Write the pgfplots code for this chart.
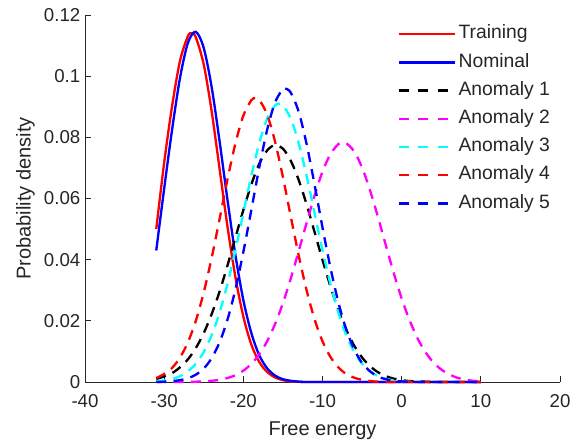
\documentclass[border=0pt]{standalone}
\usepackage{pgfplots}
\pgfplotsset{compat=1.18}
\usepackage{fontspec}
\setmainfont{Liberation Sans}
\definecolor{axgray}{gray}{0.15}
\definecolor{mred}{rgb}{1,0,0}
\definecolor{mblue}{rgb}{0,0,1}
\definecolor{mmagenta}{rgb}{1,0,1}
\definecolor{mcyan}{rgb}{0,1,1}

\begin{document}
\begin{tikzpicture}
\begin{axis}[
  scale only axis,
  width=356.25pt, height=275.25pt,
  xmin=-40, xmax=20, ymin=0, ymax=0.12,
  xtick={-40,-30,-20,-10,0,10,20},
  ytick={0,0.02,0.04,0.06,0.08,0.1,0.12},
  axis x line*=bottom, axis y line*=left,
  axis line style={-, draw=axgray, line width=0.6pt},
  tick align=inside,
  major tick length=4.5pt,
  tick style={axgray, line width=0.6pt},
  scaled y ticks=false,
  yticklabel style={/pgf/number format/fixed, /pgf/number format/precision=2},
  xticklabel style={yshift=-6pt},
  /pgf/number format/assume math mode=true,
  ticklabel style={font=\fontsize{14}{16}\selectfont, text=axgray},
  label style={font=\fontsize{15}{18}\selectfont, text=axgray},
  xlabel={Free energy},
  xlabel style={at={(axis description cs:0.5,0)}, anchor=center, yshift=-36.75pt},
  ylabel={Probability density},
  legend style={draw=none, fill=none, inner sep=0pt,
    at={(0.6575,0.981)}, anchor=north west,
    font=\fontsize{14.5}{17}\selectfont, text=axgray,
    nodes={inner sep=2pt, text height=10.5pt, text depth=3.5pt},
    row sep=3.15pt},
  legend cell align=left,
  legend image code/.code={\draw[#1] (0pt,0pt) -- (42pt,0pt);},
  clip=false,
  every axis plot/.append style={line width=1.75pt, smooth},
  anom/.style={dash pattern=on 7.5pt off 5.5pt,
    legend image post style={dash pattern=on 7.5pt off 7.25pt}},
]
% Training
\addplot[mred] coordinates {
(-31,0.0500) (-30,0.0717) (-29,0.0902) (-28,0.1050) (-27,0.1131) (-26.5,0.1140)
(-26,0.1127) (-25,0.1038) (-24,0.0885) (-23,0.0697) (-22,0.0508) (-21,0.0343)
(-20,0.0214) (-19,0.0123) (-18,0.0066) (-17,0.0033) (-16,0.0015) (-15,0.0006)
(-14,0.0002) (-13,0.0001) (-12,0) (-8,0) (-4,0) (0,0) (5,0) (10,0)
};
\addlegendentry{Training}
% Nominal
\addplot[mblue] coordinates {
(-31,0.0430) (-30,0.0632) (-29,0.0825) (-28,0.0994) (-27,0.1109) (-26,0.1145)
(-25,0.1092) (-24,0.0964) (-23,0.0787) (-22,0.0595) (-21,0.0415) (-20,0.0268)
(-19,0.0161) (-18,0.0088) (-17,0.0045) (-16,0.0021) (-15,0.0009) (-14,0.0004)
(-13,0.0001) (-12,0) (-8,0) (-4,0) (0,0) (5,0) (10,0)
};
\addlegendentry{Nominal}
% Anomaly 1
\addplot[black, anom] coordinates {
(-31,0.0010) (-30,0.0018) (-29,0.0029) (-28,0.0048) (-27,0.0074) (-26,0.0111)
(-25,0.0160) (-24,0.0222) (-23,0.0296) (-22,0.0381) (-21,0.0472) (-20,0.0562)
(-19,0.0645) (-18,0.0713) (-17,0.0757) (-16,0.0775) (-15,0.0763) (-14,0.0723)
(-13,0.0660) (-12,0.0580) (-11,0.0490) (-10,0.0399) (-9,0.0313) (-8,0.0236)
(-7,0.0171) (-6,0.0119) (-5,0.0080) (-4,0.0052) (-3,0.0032) (-2,0.0019)
(-1,0.0011) (0,0.0006) (1,0.0003) (2,0.0002) (3,0.0001) (4,0) (7,0) (10,0)
};
\addlegendentry{Anomaly 1}
% Anomaly 2
\addplot[mmagenta, anom] coordinates {
(-31,0) (-29,0) (-27,0) (-26,0.0001) (-25,0.0002) (-24,0.0004) (-23,0.0007)
(-22,0.0013) (-21,0.0022) (-20,0.0037) (-19,0.0059) (-18,0.0090) (-17,0.0133)
(-16,0.0189) (-15,0.0258) (-14,0.0339) (-13,0.0429) (-12,0.0521) (-11,0.0610)
(-10,0.0688) (-9,0.0745) (-8,0.0778) (-7.4,0.0783) (-7,0.0781) (-6,0.0754)
(-5,0.0701) (-4,0.0627) (-3,0.0540) (-2,0.0447) (-1,0.0356) (0,0.0273)
(1,0.0202) (2,0.0143) (3,0.0098) (4,0.0064) (5,0.0041) (6,0.0025) (7,0.0014)
(8,0.0008) (9,0.0004) (10,0.0002)
};
\addlegendentry{Anomaly 2}
% Anomaly 3
\addplot[mcyan, anom] coordinates {
(-31,0.0002) (-30,0.0005) (-29,0.0010) (-28,0.0019) (-27,0.0035) (-26,0.0060)
(-25,0.0098) (-24,0.0153) (-23,0.0227) (-22,0.0321) (-21,0.0431) (-20,0.0552)
(-19,0.0673) (-18,0.0780) (-17,0.0861) (-16,0.0904) (-15.5,0.0910) (-15,0.0904)
(-14,0.0861) (-13,0.0780) (-12,0.0673) (-11,0.0552) (-10,0.0431) (-9,0.0321)
(-8,0.0227) (-7,0.0153) (-6,0.0098) (-5,0.0060) (-4,0.0035) (-3,0.0019)
(-2,0.0010) (-1,0.0005) (0,0.0002) (1,0.0001) (2,0) (6,0) (10,0)
};
\addlegendentry{Anomaly 3}
% Anomaly 4
\addplot[mred, anom] coordinates {
(-31,0.0013) (-30,0.0026) (-29,0.0046) (-28,0.0080) (-27,0.0130) (-26,0.0200)
(-25,0.0293) (-24,0.0406) (-23,0.0533) (-22,0.0663) (-21,0.0780) (-20,0.0871)
(-19,0.0921) (-18.5,0.0928) (-18,0.0923) (-17,0.0875) (-16,0.0787) (-15,0.0670)
(-14,0.0540) (-13,0.0413) (-12,0.0299) (-11,0.0205) (-10,0.0133) (-9,0.0082)
(-8,0.0048) (-7,0.0026) (-6,0.0014) (-5,0.0007) (-4,0.0003) (-3,0.0001)
(-2,0) (2,0) (6,0) (10,0)
};
\addlegendentry{Anomaly 4}
% Anomaly 5
\addplot[mblue, anom] coordinates {
(-31,0) (-30,0.0001) (-29,0.0003) (-28,0.0006) (-27,0.0012) (-26,0.0024)
(-25,0.0044) (-24,0.0078) (-23,0.0130) (-22,0.0204) (-21,0.0303) (-20,0.0425)
(-19,0.0561) (-18,0.0700) (-17,0.0824) (-16,0.0914) (-15,0.0958) (-14.7,0.0960)
(-14,0.0946) (-13,0.0883) (-12,0.0777) (-11,0.0645) (-10,0.0505) (-9,0.0374)
(-8,0.0261) (-7,0.0172) (-6,0.0107) (-5,0.0062) (-4,0.0035) (-3,0.0018)
(-2,0.0009) (-1,0.0004) (0,0.0002) (1,0.0001) (2,0) (6,0) (10,0)
};
\addlegendentry{Anomaly 5}
\end{axis}
\pgfresetboundingbox
\path (-63.75pt,-45pt) rectangle (377.25pt,286.5pt);
\end{tikzpicture}
\end{document}
